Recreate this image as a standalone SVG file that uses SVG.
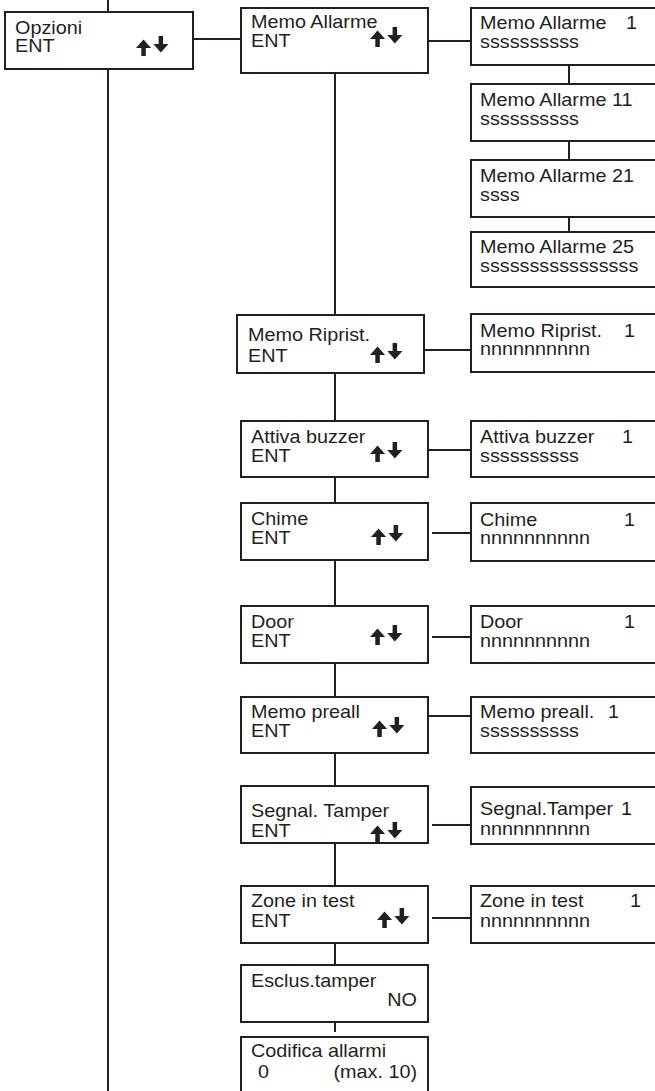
<svg xmlns="http://www.w3.org/2000/svg" width="655" height="1091" viewBox="0 0 655 1091">
<style>
.b{fill:#fff;stroke:#231f20;stroke-width:2}
.c{stroke:#231f20;stroke-width:2;fill:none}
.t{font-family:"Liberation Sans",Arial,sans-serif;font-size:18px;fill:#231f20}
.e{text-anchor:end}
.ar{fill:#231f20}
</style>
<defs>
<symbol id="updown" overflow="visible">
<g class="ar">
<rect x="5.3" y="-9.5" width="4.5" height="9.5"/>
<polygon points="0,-8 7.55,-16.5 15.1,-8"/>
<rect x="22.6" y="-20" width="4.5" height="9.5"/>
<polygon points="17.3,-12 32.4,-12 24.85,-3.5"/>
</g>
</symbol>
</defs>
<rect width="655" height="1091" fill="#fff"/>
<g id="connectors">
<line class="c" x1="108" y1="0" x2="108" y2="1091"/>
<line class="c" x1="193" y1="39" x2="241" y2="39"/>
<line class="c" x1="335" y1="40" x2="335" y2="1032"/>
<line class="c" x1="428" y1="41" x2="471" y2="41"/>
<line class="c" x1="569" y1="65" x2="569" y2="84"/>
<line class="c" x1="569" y1="141" x2="569" y2="160"/>
<line class="c" x1="569" y1="217" x2="569" y2="232"/>
<line class="c" x1="424" y1="350" x2="471" y2="350"/>
<line class="c" x1="428" y1="450" x2="471" y2="450"/>
<line class="c" x1="432" y1="533" x2="471" y2="533"/>
<line class="c" x1="432" y1="637" x2="471" y2="637"/>
<line class="c" x1="428" y1="716" x2="471" y2="716"/>
<line class="c" x1="432" y1="825" x2="471" y2="825"/>
<line class="c" x1="432" y1="918" x2="471" y2="918"/>
</g>
<g id="opzioni">
<rect class="b" x="5" y="12" width="188" height="57"/>
<text class="t" transform="translate(15 34) scale(1.1 1)">Opzioni</text>
<text class="t" transform="translate(15 52) scale(1.1 1)">ENT</text>
<use href="#updown" x="136" y="56"/>
</g>
<g id="memo-allarme">
<rect class="b" x="241" y="8" width="187" height="65"/>
<text class="t" transform="translate(251 28) scale(1.1 1)">Memo Allarme</text>
<text class="t" transform="translate(251 47) scale(1.1 1)">ENT</text>
<use href="#updown" x="370" y="47"/>
</g>
<g id="memo-allarme-1">
<rect class="b" x="471" y="8" width="190" height="57"/>
<text class="t" transform="translate(480 29) scale(1.1 1)">Memo Allarme</text>
<text class="t e" transform="translate(637 29) scale(1.1 1)">1</text>
<text class="t" transform="translate(480 48) scale(1.1 1)">ssssssssss</text>
</g>
<g id="memo-allarme-11">
<rect class="b" x="471" y="84" width="190" height="57"/>
<text class="t" transform="translate(480 106) scale(1.1 1)">Memo Allarme 11</text>
<text class="t" transform="translate(480 125) scale(1.1 1)">ssssssssss</text>
</g>
<g id="memo-allarme-21">
<rect class="b" x="471" y="160" width="190" height="57"/>
<text class="t" transform="translate(480 182) scale(1.1 1)">Memo Allarme 21</text>
<text class="t" transform="translate(480 201) scale(1.1 1)">ssss</text>
</g>
<g id="memo-allarme-25">
<rect class="b" x="471" y="232" width="190" height="55"/>
<text class="t" transform="translate(480 253) scale(1.1 1)">Memo Allarme 25</text>
<text class="t" transform="translate(480 272) scale(1.1 1)">ssssssssssssssss</text>
</g>
<g id="memo-ripristino">
<rect class="b" x="237" y="315" width="187" height="58"/>
<text class="t" transform="translate(248 341) scale(1.1 1)">Memo Riprist.</text>
<text class="t" transform="translate(248 362) scale(1.1 1)">ENT</text>
<use href="#updown" x="370" y="363"/>
</g>
<g id="memo-ripristino-1">
<rect class="b" x="471" y="314" width="190" height="58"/>
<text class="t" transform="translate(480 337) scale(1.1 1)">Memo Riprist.</text>
<text class="t e" transform="translate(635 337) scale(1.1 1)">1</text>
<text class="t" transform="translate(480 355) scale(1.1 1)">nnnnnnnnnn</text>
</g>
<g id="attiva-buzzer">
<rect class="b" x="241" y="421" width="187" height="56"/>
<text class="t" transform="translate(251 443) scale(1.1 1)">Attiva buzzer</text>
<text class="t" transform="translate(251 462) scale(1.1 1)">ENT</text>
<use href="#updown" x="370" y="462"/>
</g>
<g id="attiva-buzzer-1">
<rect class="b" x="471" y="421" width="190" height="56"/>
<text class="t" transform="translate(480 443) scale(1.1 1)">Attiva buzzer</text>
<text class="t e" transform="translate(633 443) scale(1.1 1)">1</text>
<text class="t" transform="translate(480 462) scale(1.1 1)">ssssssssss</text>
</g>
<g id="chime">
<rect class="b" x="241" y="503" width="187" height="57"/>
<text class="t" transform="translate(251 525) scale(1.1 1)">Chime</text>
<text class="t" transform="translate(251 544) scale(1.1 1)">ENT</text>
<use href="#updown" x="371" y="545"/>
</g>
<g id="chime-1">
<rect class="b" x="471" y="503" width="190" height="58"/>
<text class="t" transform="translate(480 526) scale(1.1 1)">Chime</text>
<text class="t e" transform="translate(635 526) scale(1.1 1)">1</text>
<text class="t" transform="translate(480 544) scale(1.1 1)">nnnnnnnnnn</text>
</g>
<g id="door">
<rect class="b" x="241" y="606" width="187" height="57"/>
<text class="t" transform="translate(251 628) scale(1.1 1)">Door</text>
<text class="t" transform="translate(251 647) scale(1.1 1)">ENT</text>
<use href="#updown" x="370" y="645"/>
</g>
<g id="door-1">
<rect class="b" x="471" y="606" width="190" height="57"/>
<text class="t" transform="translate(480 628) scale(1.1 1)">Door</text>
<text class="t e" transform="translate(635 628) scale(1.1 1)">1</text>
<text class="t" transform="translate(480 647) scale(1.1 1)">nnnnnnnnnn</text>
</g>
<g id="memo-preall">
<rect class="b" x="241" y="697" width="187" height="56"/>
<text class="t" transform="translate(251 718) scale(1.1 1)">Memo preall</text>
<text class="t" transform="translate(251 737) scale(1.1 1)">ENT</text>
<use href="#updown" x="372" y="737"/>
</g>
<g id="memo-preall-1">
<rect class="b" x="471" y="697" width="190" height="56"/>
<text class="t" transform="translate(480 718) scale(1.1 1)">Memo preall.</text>
<text class="t e" transform="translate(619 718) scale(1.1 1)">1</text>
<text class="t" transform="translate(480 737) scale(1.1 1)">ssssssssss</text>
</g>
<g id="segnal-tamper">
<rect class="b" x="241" y="786" width="187" height="57"/>
<text class="t" transform="translate(251 817) scale(1.1 1)">Segnal. Tamper</text>
<text class="t" transform="translate(251 837) scale(1.1 1)">ENT</text>
<use href="#updown" x="370" y="842"/>
</g>
<g id="segnal-tamper-1">
<rect class="b" x="471" y="787" width="190" height="57"/>
<text class="t" transform="translate(480 815) scale(1.1 1)">Segnal.Tamper</text>
<text class="t e" transform="translate(632 815) scale(1.1 1)">1</text>
<text class="t" transform="translate(480 835) scale(1.1 1)">nnnnnnnnnn</text>
</g>
<g id="zone-in-test">
<rect class="b" x="241" y="886" width="187" height="57"/>
<text class="t" transform="translate(251 907) scale(1.1 1)">Zone in test</text>
<text class="t" transform="translate(251 927) scale(1.1 1)">ENT</text>
<use href="#updown" x="377" y="928"/>
</g>
<g id="zone-in-test-1">
<rect class="b" x="471" y="886" width="190" height="57"/>
<text class="t" transform="translate(480 907) scale(1.1 1)">Zone in test</text>
<text class="t e" transform="translate(641 907) scale(1.1 1)">1</text>
<text class="t" transform="translate(480 927) scale(1.1 1)">nnnnnnnnnn</text>
</g>
<g id="esclus-tamper">
<rect class="b" x="241" y="965" width="187" height="57"/>
<text class="t" transform="translate(251 987) scale(1.1 1)">Esclus.tamper</text>
<text class="t e" transform="translate(417 1006) scale(1.1 1)">NO</text>
</g>
<g id="codifica-allarmi">
<rect class="b" x="241" y="1037" width="187" height="70"/>
<text class="t" transform="translate(251 1057) scale(1.1 1)">Codifica allarmi</text>
<text class="t" transform="translate(258 1078) scale(1.1 1)">0</text>
<text class="t e" transform="translate(417 1078) scale(1.1 1)">(max. 10)</text>
</g>
</svg>
